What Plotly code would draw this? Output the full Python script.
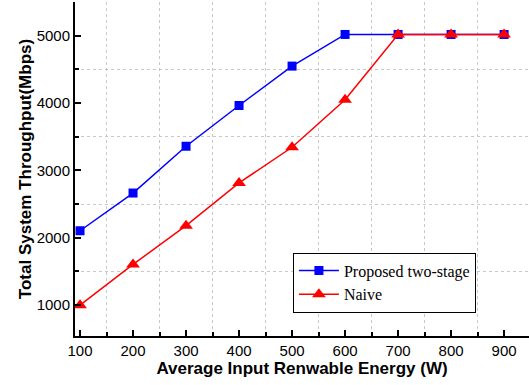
import plotly.graph_objects as go

energy = [100, 200, 300, 400, 500, 600, 700, 800, 900]
proposed = [2105, 2665, 3360, 3965, 4550, 5020, 5020, 5020, 5020]
naive = [1000, 1605, 2180, 2815, 3345, 4050, 5020, 5020, 5020]
x_ticks = [100, 200, 300, 400, 500, 600, 700, 800, 900]
y_ticks = [1000, 2000, 3000, 4000, 5000]

fig = go.Figure()
fig.add_trace(go.Scatter(x=energy, y=proposed, name="Proposed two-stage",
                         mode="lines+markers",
                         line=dict(color="#0000ff", width=1.5),
                         marker=dict(symbol="square", size=9, color="#0000ff")))
fig.add_trace(go.Scatter(x=energy, y=naive, name="Naive",
                         mode="lines+markers",
                         line=dict(color="#ff0000", width=1.5),
                         marker=dict(symbol="triangle-up", size=12, color="#ff0000")))

fig.update_layout(
    width=529, height=385,
    margin=dict(l=75, r=0, t=2, b=49, autoexpand=False),
    plot_bgcolor="white", paper_bgcolor="white",
    font=dict(family="Liberation Sans, Arial", size=15, color="black"),
    showlegend=True,
    legend=dict(x=0.48, y=0.25, xanchor="left", yanchor="top",
                bgcolor="white", bordercolor="black", borderwidth=1,
                font=dict(family="Liberation Serif, Times New Roman", size=16),
                tracegroupgap=0, itemwidth=40),
)
fig.update_xaxes(
    range=[90.5, 947], tickvals=x_ticks, showgrid=False, automargin=False,
    showline=True, linecolor="black", linewidth=2,
    ticks="inside", ticklen=6, tickwidth=1.5, tickcolor="black",
    minor=dict(dtick=100, tick0=50, ticks="inside", ticklen=4, tickcolor="black",
               showgrid=True, gridcolor="#c8c8c8", griddash="dot", gridwidth=1),
    zeroline=False,
    title=dict(text="<b>Average Input Renwable Energy (W)</b>", font=dict(size=17), standoff=3),
    tickfont=dict(size=15),
)
fig.update_yaxes(
    range=[542, 5502], tickvals=y_ticks, showgrid=False, automargin=False,
    showline=True, linecolor="black", linewidth=2,
    ticks="inside", ticklen=6, tickwidth=1.5, tickcolor="black",
    minor=dict(dtick=1000, tick0=500, ticks="inside", ticklen=4, tickcolor="black",
               showgrid=True, gridcolor="#c8c8c8", griddash="dot", gridwidth=1),
    zeroline=False,
    title=dict(text="<b>Total System Throughput(Mbps)</b>", font=dict(size=17), standoff=1),
    tickfont=dict(size=15),
)

fig.write_html("out.html", config={"displayModeBar": False},
               post_script="document.body.style.margin='0';document.body.style.padding='0';")
